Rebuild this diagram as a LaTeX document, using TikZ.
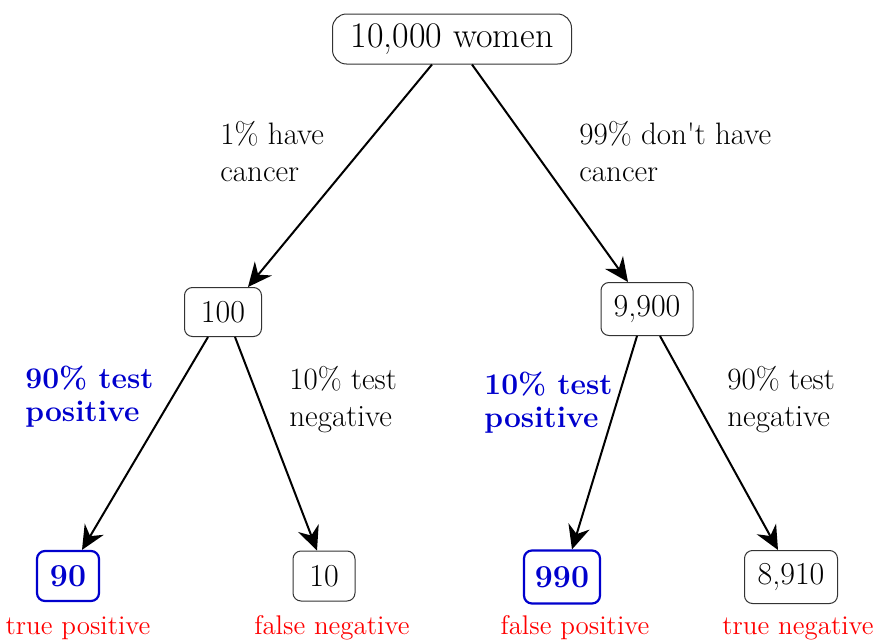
\documentclass[tikz,border=0pt]{standalone}
\usetikzlibrary{arrows.meta}
\definecolor{posblue}{RGB}{0,0,205}
\definecolor{outred}{RGB}{255,0,0}

\begin{document}
\begin{tikzpicture}[x=0.5pt,y=-0.5pt,
  box/.style={draw=black!80, line width=0.5pt, rounded corners=4pt, inner sep=0pt, font=\fontsize{16}{19}\selectfont},
  hit/.style={box, draw=posblue, line width=1.1pt, text=posblue, font=\fontsize{16}{19}\selectfont\bfseries},
  branch/.style={anchor=west, align=left, inner sep=0pt, font=\fontsize{15.5}{18.5}\selectfont},
  keybranch/.style={branch, text=posblue, font=\fontsize{15}{16.5}\selectfont\bfseries},
  outcome/.style={text=outred, inner sep=0pt, font=\fontsize{13.5}{16}\selectfont},
  edge/.style={line width=1pt, -{Stealth[length=12pt,width=11pt,inset=4pt]}}]
  \useasboundingbox (0,0) rectangle (874,643);
  %% Population and first split
  \node[box, rounded corners=7pt, minimum width=119.5pt, minimum height=25pt,
        font=\fontsize{18}{21}\selectfont] (women) at (452,39) {10,000 women};
  \node[box, minimum width=38.5pt, minimum height=24.5pt] (sick) at (223,312) {100};
  \node[box, minimum width=46pt, minimum height=26.5pt] (healthy) at (647,309) {9,900};
  %% Test outcomes
  \node[hit, minimum width=31pt, minimum height=25pt] (tp) at (68,576) {90};
  \node[box, minimum width=31pt, minimum height=25pt] (fn) at (324,576) {10};
  \node[hit, minimum width=38pt, minimum height=26.5pt] (fp) at (562,577) {990};
  \node[box, minimum width=46.5pt, minimum height=26.5pt] (tn) at (791,577) {8,910};
  %% Branch labels
  \node[branch] (havelab) at (220,152) {1\% have\\cancer};
  \node[branch] (notlab) at (579,152) {99\% don\textquotesingle t have\\cancer};
  \node[keybranch] (tplab) at (25,397) {90\% test\\positive};
  \node[branch] (fnlab) at (289,400) {10\% test\\negative};
  \node[keybranch] (fplab) at (484,403) {10\% test\\positive};
  \node[branch] (tnlab) at (727,400) {90\% test\\negative};
  %% Outcome names
  \node[outcome] (tpname) at (78,628) {true positive};
  \node[outcome] (fnname) at (332,628) {false negative};
  \node[outcome] (fpname) at (575,628) {false positive};
  \node[outcome] (tnname) at (798,628) {true negative};
  %% Arrows
  \draw[edge] ([xshift=-10pt]women.south) -- ([xshift=12.5pt]sick.north);
  \draw[edge] ([xshift=10pt]women.south) -- ([xshift=-9.5pt]healthy.north);
  \draw[edge] ([xshift=-7.5pt]sick.south) -- ([xshift=7pt]tp.north);
  \draw[edge] ([xshift=6pt]sick.south) -- ([xshift=-3.5pt]fn.north);
  \draw[edge] ([xshift=-5pt]healthy.south) -- ([xshift=5pt]fp.north);
  \draw[edge] ([xshift=6.5pt]healthy.south) -- ([xshift=-6.5pt]tn.north);
\end{tikzpicture}
\end{document}
